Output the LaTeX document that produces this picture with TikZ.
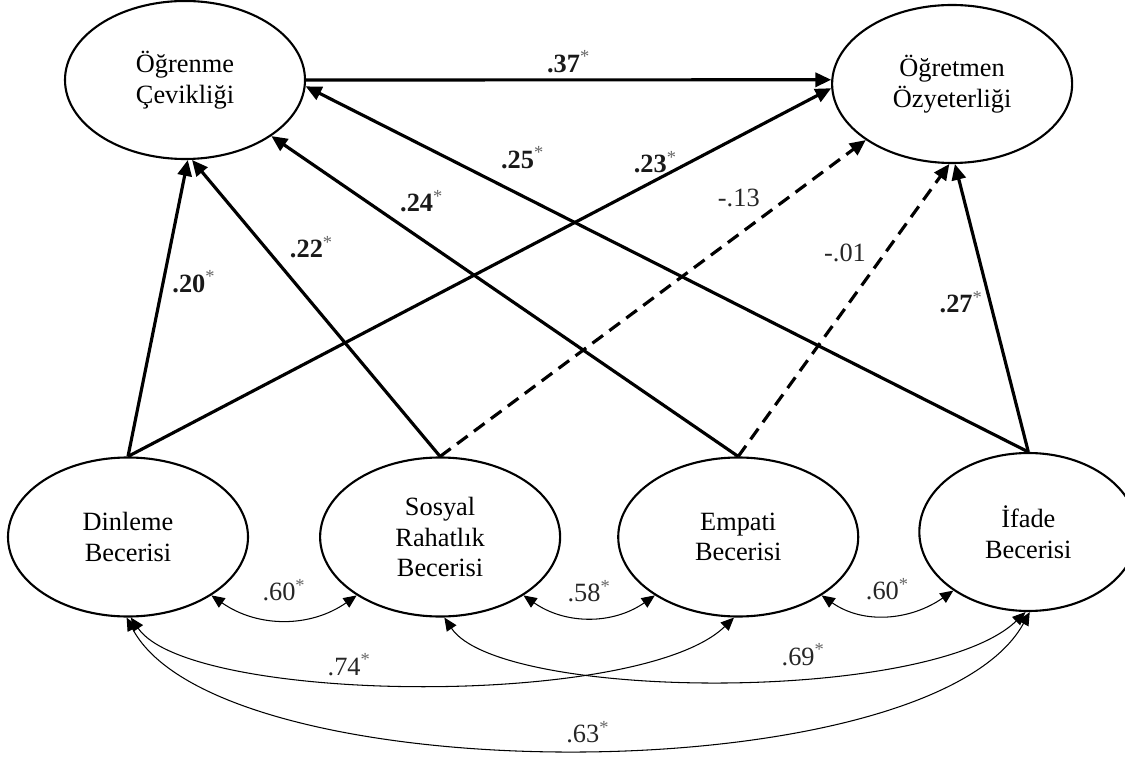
\documentclass[tikz,border=0pt]{standalone}
\usepackage{fontspec}
\setmainfont{Liberation Serif}
\usetikzlibrary{shapes.geometric, arrows.meta, positioning}
\tikzstyle{latent} = [ellipse, draw=black, line width=1.2pt, minimum width=4.8cm, minimum height=3.16cm, inner sep=0pt, align=center, font=\fontsize{15}{17.5}\selectfont]
\tikzstyle{effect} = [line width=1.8pt, -{Triangle[length=9pt,width=8pt]}]
\tikzstyle{weak} = [effect, dash pattern=on 7.5pt off 4.5pt]
\tikzstyle{cov} = [line width=0.6pt, {Triangle[length=7.5pt,width=6.5pt]}-{Triangle[length=7.5pt,width=6.5pt]}]
\tikzstyle{coef} = [font=\fontsize{15}{17}\selectfont\bfseries, text=black!90]
\tikzstyle{ns} = [font=\fontsize{15}{17}\selectfont, text=black!85]
\newcommand{\sig}{\textsuperscript{\normalfont\color{black!60}*}}

\begin{document}
\begin{tikzpicture}
\useasboundingbox (0,0) rectangle (22.5,15.18);

% Latent variables
\node (ogr) [latent] at (3.7,13.58) {Öğrenme\\Çevikliği};
\node (oze) [latent, right=10.5cm of ogr, yshift=-0.08cm] {Öğretmen\\Özyeterliği};

\node (din) [latent, minimum height=3.18cm] at (2.56,4.44) {Dinleme\\Becerisi};
\node (sos) [latent, minimum height=3.18cm, right=1.4cm of din] {Sosyal\\Rahatlık\\Becerisi};
\node (emp) [latent, minimum height=3.18cm, right=1.12cm of sos] {Empati\\Becerisi};
\node (ifa) [latent, minimum width=4.36cm, right=1.18cm of emp, yshift=0.1cm] {İfade\\Becerisi};

% Structural paths
\draw [effect] (ogr.east) -- node[coef, above] {.37\sig} (oze.178);
\draw [effect] (din.north) -- node[coef, pos=0.59, right=1pt] {.20\sig} (ogr.-88);
\draw [effect] (sos.north) -- node[coef, pos=0.64, above right=1pt] {.22\sig} (ogr.-85);
\draw [effect] (emp.north) -- node[coef, pos=0.74, above right] {.24\sig} (ogr.-33);
\draw [effect] (ifa.north) -- node[coef, pos=0.745, above right=3pt] {.25\sig} (ogr.-3);
\draw [effect] (din.north) -- node[coef, pos=0.75, above] {.23\sig} (oze.-178);
\draw [weak] (sos.north) -- node[ns, pos=0.76, above left=1pt and -2pt] {-.13} (oze.-147);
\draw [weak] (emp.north) -- node[ns, pos=0.64, above left] {-.01} (oze.-92);
\draw [effect] (ifa.north) -- node[coef, pos=0.52, left] {.27\sig} (oze.-88);

% Covariances
\draw [cov] (din.-35) to[out=-35, in=-145] node[ns, above=7pt] {.60\sig} (sos.-145);
\draw [cov] (sos.-35) to[out=-35, in=-145] node[ns, above=5pt] {.58\sig} (emp.-145);
\draw [cov] (emp.-35) to[out=-35, in=-145] node[ns, above=5pt] {.60\sig} (ifa.-142);
\draw [cov] (din.-88) .. controls (3.8,1.1) and (12.8,1.0) .. node[ns, pos=0.41, above] {.74\sig} (emp.-93);
\draw [cov] (sos.-87) .. controls (10.0,1.16) and (18.6,1.1) .. node[ns, pos=0.61, above=3pt] {.69\sig} (ifa.-92);
\draw [cov] (din.-91) .. controls (4.4,-0.7) and (18.6,-0.7) .. node[ns, pos=0.51, above] {.63\sig} (ifa.-89);

\end{tikzpicture}
\end{document}
